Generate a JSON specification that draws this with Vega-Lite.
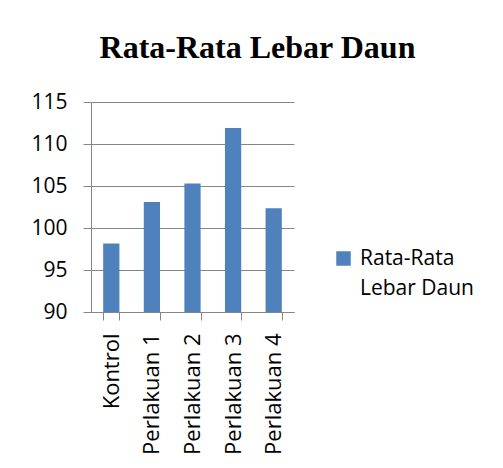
{
  "$schema": "https://vega.github.io/schema/vega-lite/v6.json",
  "width": 203,
  "height": 210,
  "autosize": {"type": "none"},
  "padding": {"left": 91, "top": 102, "right": 209, "bottom": 156},
  "background": "white",
  "title": {
    "text": "Rata-Rata Lebar Daun",
    "font": "Liberation Serif",
    "fontWeight": "bold",
    "fontSize": 32,
    "color": "black",
    "anchor": "middle",
    "dx": 65,
    "offset": 26
  },
  "data": {
    "values": [
      {"kategori": "Kontrol", "nilai": 98.15, "seri": "Rata-Rata Lebar Daun"},
      {"kategori": "Perlakuan 1", "nilai": 103.1, "seri": "Rata-Rata Lebar Daun"},
      {"kategori": "Perlakuan 2", "nilai": 105.3, "seri": "Rata-Rata Lebar Daun"},
      {"kategori": "Perlakuan 3", "nilai": 111.9, "seri": "Rata-Rata Lebar Daun"},
      {"kategori": "Perlakuan 4", "nilai": 102.35, "seri": "Rata-Rata Lebar Daun"}
    ]
  },
  "mark": {"type": "bar", "clip": true},
  "encoding": {
    "x": {
      "field": "kategori",
      "type": "nominal",
      "sort": null,
      "title": null,
      "scale": {"paddingInner": 0.6, "paddingOuter": 0.3},
      "axis": {
        "labelAngle": -90,
        "labelAlign": "right",
        "labelBaseline": "middle",
        "labelFont": "Open Sans",
        "labelFontSize": 22,
        "labelColor": "black",
        "labelPadding": 13,
        "tickBand": "extent",
        "tickSize": 8,
        "tickColor": "#868686",
        "domainColor": "#868686",
        "labelLimit": 0
      }
    },
    "y": {
      "field": "nilai",
      "type": "quantitative",
      "title": null,
      "scale": {"domain": [90, 115], "nice": false, "zero": false},
      "axis": {
        "values": [90, 95, 100, 105, 110, 115],
        "labelFont": "Open Sans",
        "labelFontSize": 21,
        "labelColor": "black",
        "labelPadding": 16,
        "tickSize": 8,
        "tickColor": "#868686",
        "domainColor": "#868686",
        "gridColor": "#868686",
        "gridOpacity": 1
      }
    },
    "color": {
      "field": "seri",
      "type": "nominal",
      "scale": {"range": ["#4F81BD"]},
      "legend": {
        "title": null,
        "orient": "none",
        "legendX": 242,
        "legendY": 146,
        "symbolType": "square",
        "symbolSize": 210,
        "symbolStrokeWidth": 0,
        "labelFont": "Open Sans",
        "labelFontSize": 21,
        "labelColor": "black",
        "labelOffset": 6,
        "labelLimit": 0,
        "labelExpr": "['Rata-Rata', 'Lebar Daun']",
        "encode": {"labels": {"update": {"lineHeight": {"value": 30}}}}
      }
    }
  },
  "config": {
    "view": {"stroke": null},
    "axis": {"gridWidth": 1, "domainWidth": 1, "tickWidth": 1}
  }
}
